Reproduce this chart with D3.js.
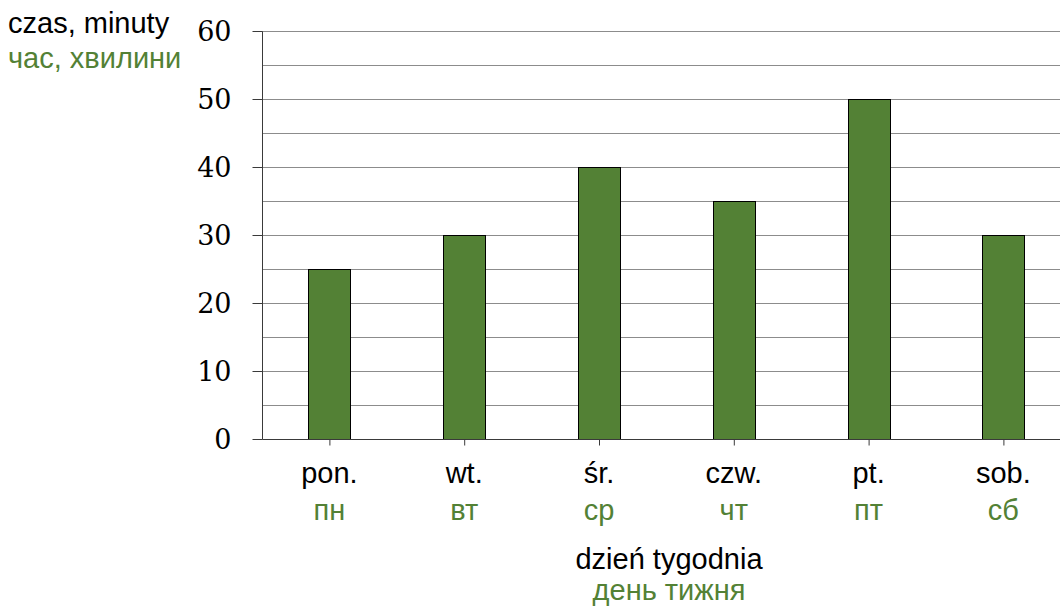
<!DOCTYPE html>
<html>
<head>
<meta charset="utf-8">
<script src="https://cdn.jsdelivr.net/npm/d3@7"></script>
<style>
  body { margin: 0; background: #fff; }
  svg { display: block; }
</style>
</head>
<body>
<svg id="chart"></svg>
<script>
const daysPl = ['pon.', 'wt.', 'śr.', 'czw.', 'pt.', 'sob.'];
const daysUk = ['пн', 'вт', 'ср', 'чт', 'пт', 'сб'];
const minutes = [25, 30, 40, 35, 50, 30];
const yTicks = [0, 10, 20, 30, 40, 50, 60];
const yGrid = [5, 10, 15, 20, 25, 30, 35, 40, 45, 50, 55, 60];

const width = 1060;
const height = 607;
const green = '#538135';
const plotLeft = 262;
const plotTop = 31;
const plotBottom = 439;
const fontSize = 29;

const svg = d3.select('#chart')
  .attr('width', width)
  .attr('height', height);

let x = d3.scaleBand()
  .domain(d3.range(daysPl.length))
  .range([plotLeft, plotLeft + 134.8 * daysPl.length])
  .paddingInner(0)
  .paddingOuter(0);

let y = d3.scaleLinear()
  .domain([0, 60])
  .range([plotBottom, plotTop]);

// grid
svg.append('g')
  .selectAll('line')
  .data(yGrid)
  .enter()
  .append('line')
  .attr('x1', plotLeft)
  .attr('x2', width)
  .attr('y1', d => Math.round(y(d)) + 0.5)
  .attr('y2', d => Math.round(y(d)) + 0.5)
  .attr('stroke', '#8c8c8c')
  .attr('stroke-width', 1);

// bars
const barW = 42;
svg.append('g')
  .selectAll('rect')
  .data(minutes)
  .enter()
  .append('rect')
  .attr('x', (d, i) => Math.round(x(i) + x.bandwidth() / 2 - barW / 2) + 0.5)
  .attr('y', d => Math.round(y(d)) + 0.5)
  .attr('width', barW)
  .attr('height', d => Math.round(y(0)) - Math.round(y(d)))
  .attr('fill', green)
  .attr('stroke', '#000')
  .attr('stroke-width', 1);

// y axis
let yAxis = d3.axisLeft(y)
  .tickValues(yTicks)
  .tickSize(10)
  .tickPadding(21)
  .tickFormat(d3.format('d'));

const ya = svg.append('g')
  .attr('transform', 'translate(' + (plotLeft + 0.5) + ',0.5)')
  .call(yAxis);
ya.select('.domain').attr('stroke', '#3a3a3a').attr('d', 'M0,' + plotTop + 'V' + plotBottom);
ya.selectAll('.tick').attr('transform', d => 'translate(0,' + Math.round(y(d)) + ')');
ya.selectAll('.tick line').attr('stroke', '#3a3a3a');
ya.selectAll('.tick text')
  .attr('font-family', '"DejaVu Serif", serif')
  .attr('font-size', 27)
  .attr('fill', '#000')
  .attr('dy', '0.36em');

// x axis
let xAxis = d3.axisBottom(x)
  .tickSize(6)
  .tickFormat('');

const xa = svg.append('g')
  .attr('transform', 'translate(0.5,' + (plotBottom + 0.5) + ')')
  .call(xAxis);
xa.select('.domain').attr('stroke', '#3a3a3a').attr('d', 'M' + plotLeft + ',0H' + width);
xa.selectAll('.tick line').attr('stroke', '#3a3a3a');

const labels = svg.append('g')
  .attr('font-family', '"Liberation Sans", Arial, sans-serif')
  .attr('font-size', fontSize)
  .attr('text-anchor', 'middle');

labels.selectAll('.pl')
  .data(daysPl)
  .enter()
  .append('text')
  .attr('class', 'pl')
  .attr('x', (d, i) => x(i) + x.bandwidth() / 2)
  .attr('y', 483)
  .attr('fill', '#000')
  .text(d => d);

labels.selectAll('.uk')
  .data(daysUk)
  .enter()
  .append('text')
  .attr('class', 'uk')
  .attr('x', (d, i) => x(i) + x.bandwidth() / 2)
  .attr('y', 520)
  .attr('fill', green)
  .text(d => d);

// axis titles
const titles = svg.append('g')
  .attr('font-family', '"Liberation Sans", Arial, sans-serif')
  .attr('font-size', fontSize);

titles.append('text')
  .attr('x', 669).attr('y', 569)
  .attr('text-anchor', 'middle')
  .attr('fill', '#000')
  .text('dzień tygodnia');
titles.append('text')
  .attr('x', 669).attr('y', 600)
  .attr('text-anchor', 'middle')
  .attr('fill', green)
  .text('день тижня');

titles.append('text')
  .attr('x', 8).attr('y', 33)
  .attr('fill', '#000')
  .text('czas, minuty');
titles.append('text')
  .attr('x', 8).attr('y', 68)
  .attr('fill', green)
  .text('час, хвилини');
</script>
</body>
</html>
